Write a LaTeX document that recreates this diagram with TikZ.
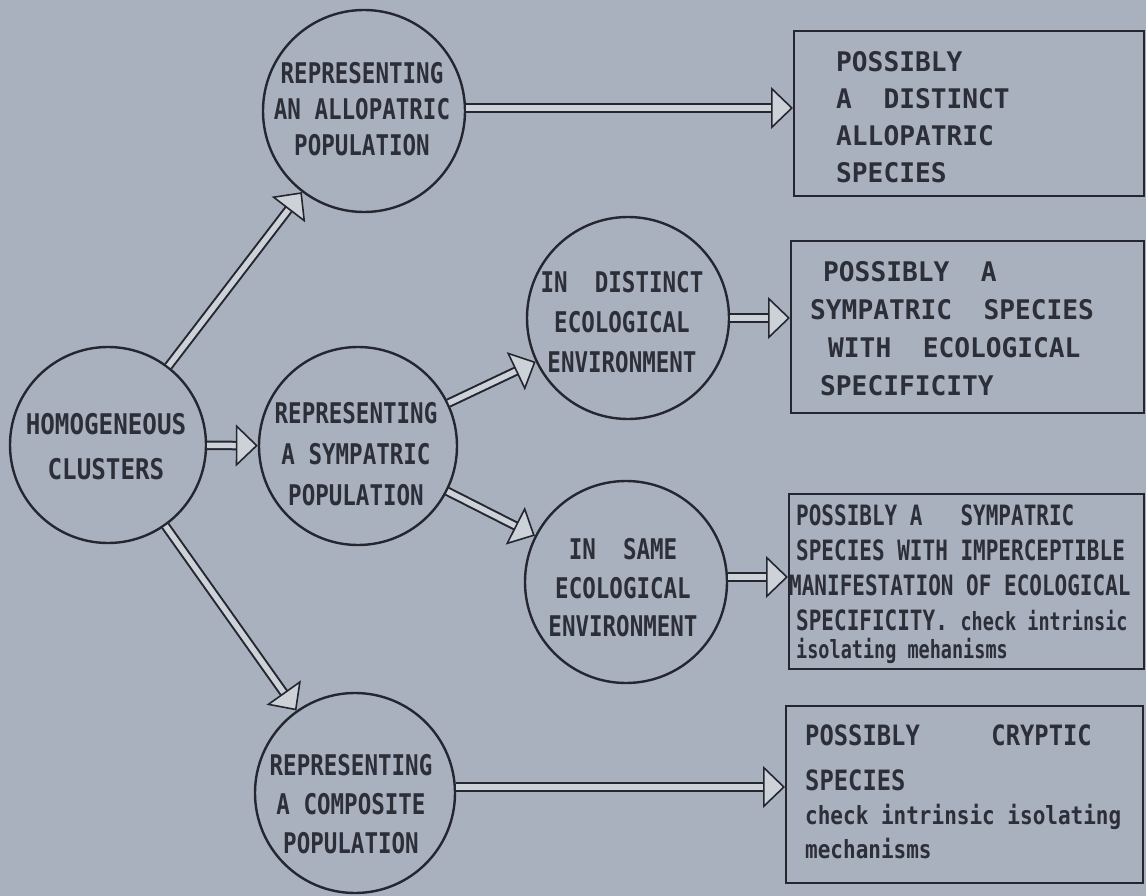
\documentclass[tikz,border=0pt]{standalone}
\usepackage{fontspec}
\usetikzlibrary{arrows.meta}
\newfontfamily\fcirc{DejaVu Sans Mono}[FakeStretch=0.79]
\newfontfamily\fhom{DejaVu Sans Mono}[FakeStretch=0.85]
\newfontfamily\fbig{DejaVu Sans Mono}[FakeStretch=0.97]
\newfontfamily\fsmall{DejaVu Sans Mono}[FakeStretch=0.75]
\newfontfamily\fmid{DejaVu Sans Mono}[FakeStretch=0.85]
\newfontfamily\flow{DejaVu Sans Mono}[FakeStretch=0.84]
\newfontfamily\flowb{DejaVu Sans Mono}[FakeStretch=0.74]
\definecolor{bg}{RGB}{169,177,191}
\definecolor{ink}{RGB}{36,38,48}
\definecolor{txt}{RGB}{44,46,56}
\definecolor{hl}{RGB}{205,209,216}
\tikzset{
  circ/.style={circle, draw=ink, line width=2.4pt, inner sep=0pt},
  ctxt/.style={inner sep=0pt, align=center, text=txt,
    font=\fcirc\bfseries\fontsize{28.5}{39}\selectfont},
  bx/.style={rectangle, draw=ink, line width=2.4pt, inner sep=0pt, anchor=north west},
  btxt/.style={inner sep=0pt, anchor=north west, align=left, text=txt},
  harrow/.style={draw=ink, line width=2pt, double=hl, double distance=5.5pt,
    -{Triangle[fill=hl, length=22pt, width=42pt, line width=1.6pt]}},
}
\begin{document}
\begin{tikzpicture}[x=1pt, y=-1pt]
\fill[bg] (0,0) rectangle (1146,896);
\useasboundingbox (0,0) rectangle (1146,896);

% circles
\node[circ, minimum size=196pt] (H) at (108,445) {};
\node[circ, minimum size=202pt] (A) at (364,111) {};
\node[circ, minimum size=198pt] (S) at (358,446) {};
\node[circ, minimum size=200pt] (C) at (355,793) {};
\node[circ, minimum size=202pt] (D) at (628,318) {};
\node[circ, minimum size=202pt] (Sm) at (626,582) {};

% circle texts
\node[ctxt, font=\fhom\bfseries\fontsize{28.5}{45}\selectfont] (Ht) at (106,447) {HOMOGENEOUS\\CLUSTERS};
\node[ctxt, font=\fcirc\bfseries\fontsize{28.5}{36}\selectfont] (At) at (362,109) {REPRESENTING\\AN ALLOPATRIC\\POPULATION};
\node[ctxt, font=\fcirc\bfseries\fontsize{28.5}{41}\selectfont] (St) at (356,454) {REPRESENTING\\A SYMPATRIC\\POPULATION};
\node[ctxt] (Ct) at (351,804) {REPRESENTING\\A COMPOSITE\\POPULATION};
\node[ctxt, font=\fcirc\bfseries\fontsize{28.5}{40}\selectfont] (Dt) at (622,322) {IN~~DISTINCT\\ECOLOGICAL\\ENVIRONMENT};
\node[ctxt, font=\fcirc\bfseries\fontsize{28.5}{38.5}\selectfont] (Smt) at (623,588) {IN~~SAME\\ECOLOGICAL\\ENVIRONMENT};

% boxes
\node[bx, minimum width=350pt, minimum height=165pt] (B1) at (793,30) {};
\node[bx, minimum width=353pt, minimum height=172pt] (B2) at (790,240) {};
\node[bx, minimum width=355pt, minimum height=175pt] (B3) at (788,493) {};
\node[bx, minimum width=357pt, minimum height=177pt] (B4) at (785,705) {};

% box texts
\node[btxt, font=\fbig\bfseries\fontsize{27}{37}\selectfont] (T1) at (836,51)
  {POSSIBLY\\A~~DISTINCT\\ALLOPATRIC\\SPECIES};
\node[btxt, font=\fbig\bfseries\fontsize{27}{38}\selectfont] (T2) at (810,261)
  {\hspace*{13pt}POSSIBLY~~A\\SYMPATRIC~~SPECIES\\\hspace*{18pt}WITH~~ECOLOGICAL\\\hspace*{10pt}SPECIFICITY};
\node[btxt, font=\fsmall\bfseries\fontsize{28}{35}\selectfont] (T3) at (796,505)
  {POSSIBLY~A~~~SYMPATRIC\\SPECIES~WITH~IMPERCEPTIBLE\\\hspace*{-7pt}MANIFESTATION~OF~ECOLOGICAL\\SPECIFICITY.~{\flowb\fontsize{25}{35}\selectfont check~intrinsic}\\[-7pt]{\flowb\fontsize{25}{35}\selectfont isolating~mehanisms}};
\node[btxt, font=\fmid\bfseries\fontsize{28}{34}\selectfont] (T4) at (805,725)
  {POSSIBLY~~~~~CRYPTIC\\[11pt]SPECIES\\{\flow\fontsize{25}{34}\selectfont check~intrinsic~isolating}\\{\flow\fontsize{25}{34}\selectfont mechanisms}};

% connectors
\draw[harrow] (H) -- (A);
\draw[harrow] (H) -- (S);
\draw[harrow] (H) -- (C);
\draw[harrow] (S) -- (D);
\draw[harrow] (S) -- (Sm);
\draw[harrow] ([yshift=3pt]A.east) -- ([yshift=3pt]A.east -| B1.west);
\draw[harrow] (D.east) -- (D.east -| B2.west);
\draw[harrow] ([yshift=5pt]Sm.east) -- ([yshift=5pt]Sm.east -| B3.west);
\draw[harrow] ([yshift=6pt]C.east) -- ([yshift=6pt]C.east -| B4.west);
\end{tikzpicture}
\end{document}
